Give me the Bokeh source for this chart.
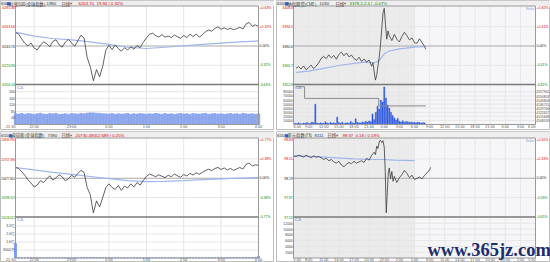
from bokeh.plotting import figure
from bokeh.models import Range1d
from bokeh.layouts import row, column
from bokeh.core.properties import value
from bokeh.embed import file_html
from bokeh.resources import INLINE

# ---------------- data ----------------
# top-left: S&P 500 (minutes after 21:30)
spx_t = list(range(0, 391, 5))
spx_price = [6257.5, 6256.0, 6251.0, 6246.5, 6244.0, 6246.8, 6241.5, 6239.8, 6244.5, 6248.0,
             6246.2, 6243.0, 6248.5, 6250.2, 6245.0, 6242.6, 6247.8, 6250.5, 6246.9, 6243.5,
             6249.0, 6254.8, 6252.0, 6232.0, 6222.5, 6208.0, 6219.5, 6212.0, 6223.0, 6239.5,
             6244.5, 6240.0, 6244.8, 6241.2, 6238.5, 6242.0, 6239.6, 6243.0, 6240.5, 6244.2,
             6242.0, 6247.5, 6252.0, 6255.8, 6257.0, 6254.5, 6253.0, 6255.5, 6252.8, 6254.0,
             6252.5, 6255.0, 6253.2, 6251.8, 6254.6, 6252.4, 6255.8, 6253.5, 6256.0, 6253.0,
             6255.2, 6258.5, 6260.2, 6259.0, 6261.8, 6263.5, 6261.0, 6262.5, 6260.8, 6262.0,
             6260.5, 6261.5, 6263.0, 6261.2, 6266.5, 6268.0, 6264.0, 6265.5, 6263.7]
spx_avg_t = list(range(0, 391, 30))
spx_avg = [6258.0, 6254.0, 6251.5, 6250.0, 6248.0, 6245.5, 6242.5, 6241.2, 6242.5, 6244.0,
           6245.5, 6246.8, 6248.0, 6249.0]
spx_vol = [66, 64, 68, 63, 67, 65, 62, 66, 69, 64,
           63, 67, 65, 68, 62, 64, 66, 63, 67, 65,
           64, 68, 66, 70, 72, 71, 69, 68, 66, 65,
           64, 67, 63, 66, 64, 65, 68, 62, 66, 64,
           67, 65, 63, 66, 64, 68, 65, 63, 67, 64,
           66, 62, 65, 68, 64, 66, 63, 67, 65, 64,
           66, 68, 63, 65, 67, 64, 66, 62, 65, 67,
           64, 66, 63, 68, 65, 64, 66, 63, 65]
spx_ticks = [6283.36, 6263.56, 6243.76, 6223.96, 6204.16]
spx_tick_labels = ["6283.36", "6263.56", "6243.76", "6223.96", "6204.16"]
spx_pct_labels = ["+0.63%", "+0.32%", "0.00%", "-0.32%", "-0.63%"]
spx_vol_ticks = [200, 160, 120, 80, 40]
spx_vol_labels = ["200", "160", "120", "80", "40"]

# bottom-left: Dow Jones (minutes after 21:30)
dji_price = [20722, 20718, 20705, 20690, 20672, 20658, 20642, 20650, 20668, 20660,
             20675, 20688, 20670, 20680, 20692, 20684, 20667, 20676, 20690, 20682,
             20698, 20710, 20702, 20640, 20610, 20535, 20585, 20560, 20598, 20640,
             20655, 20640, 20632, 20648, 20628, 20645, 20638, 20655, 20642, 20660,
             20650, 20668, 20685, 20695, 20690, 20684, 20692, 20686, 20680, 20690,
             20684, 20695, 20688, 20682, 20693, 20687, 20698, 20691, 20700, 20694,
             20702, 20710, 20715, 20709, 20718, 20722, 20714, 20720, 20712, 20718,
             20710, 20716, 20722, 20716, 20735, 20740, 20728, 20733, 20730.49]
dji_avg = [20722, 20712, 20702, 20694, 20685, 20676, 20668, 20664, 20665, 20668,
           20672, 20675, 20678, 20681]
dji_vol = [14500, 300, 180, 220, 150, 120, 160, 200, 140, 110,
           130, 170, 150, 120, 140, 160, 130, 110, 150, 170,
           190, 240, 260, 420, 380, 450, 330, 290, 260, 210,
           180, 150, 160, 140, 120, 130, 150, 110, 140, 130,
           160, 180, 150, 130, 120, 140, 110, 130, 150, 120,
           140, 130, 110, 150, 120, 140, 160, 130, 150, 140,
           170, 160, 180, 150, 190, 170, 200, 180, 210, 220,
           240, 260, 280, 300, 340, 380, 420, 600, 1800]
dji_ticks = [20836.990, 20757.396, 20677.801, 20598.207, 20518.612]
dji_tick_labels = ["20836.990", "20757.396", "20677.801", "20598.207", "20518.612"]
dji_pct_labels = ["+0.77%", "+0.38%", "0.00%", "-0.38%", "-0.77%"]
dji_vol_ticks = [32000, 24000, 16000, 8000]
dji_vol_labels = ["3.2亿", "2.4亿", "1.6亿", "8000万"]

us_time_ticks = [0, 30, 90, 150, 210, 270, 330, 390]
us_time_labels = ["21:30", "22:00", "23:00", "0:00", "1:00", "2:00", "3:00", "4:00"]

# top-right: Nasdaq future (hours after 6:00)
ndx_t = [0.5, 1.0, 1.5, 2.0, 2.5, 3.0, 3.5, 4.0, 4.5, 5.0, 5.5, 6.0, 6.5, 7.0, 7.5, 8.0,
         8.5, 9.0, 9.5, 10.0, 10.5, 11.0, 11.5, 12.0, 12.5, 13.0, 13.5, 14.0, 14.5, 15.0,
         15.5, 15.75, 16.0, 16.25, 16.5, 16.75, 17.0, 17.25, 17.5, 17.75, 18.0, 18.25,
         18.5, 18.75, 19.0, 19.5, 20.0, 20.5, 21.0, 21.5, 22.0, 22.5, 23.0, 23.5, 24.0,
         24.5, 25.0, 25.5, 26.0, 26.25]
ndx_price = [3364.5, 3365.8, 3364.0, 3366.2, 3363.5, 3365.0, 3366.8, 3364.2, 3366.0, 3368.5,
             3371.8, 3373.0, 3371.5, 3374.2, 3372.0, 3373.8, 3371.0, 3374.5, 3376.2, 3373.5,
             3375.5, 3372.8, 3374.0, 3371.5, 3370.2, 3372.5, 3369.5, 3371.2, 3369.0, 3370.5,
             3366.0, 3368.5, 3362.0, 3356.0, 3359.5, 3366.0, 3372.5, 3381.0, 3393.0, 3404.5,
             3407.8, 3396.0, 3385.5, 3391.5, 3388.0, 3384.5, 3389.0, 3385.5, 3383.5, 3387.5,
             3390.5, 3388.0, 3385.0, 3386.5, 3383.0, 3382.5, 3385.8, 3383.0, 3380.2, 3378.2]
ndx_avg_t = [0.5, 3, 6, 9, 12, 14, 16, 17, 18, 19, 21, 24, 26.25]
ndx_avg = [3361.5, 3362.5, 3364.5, 3366.5, 3368.0, 3369.0, 3368.5, 3370.0, 3375.0, 3377.0,
           3378.5, 3379.8, 3380.3]
ndx_vol_t = [k / 3 for k in range(1, 79)]
ndx_vol = [3000, 2200, 4100, 2600, 1800, 3500, 2900, 5200, 2400, 3100, 6000, 4500,
           50000,
           3800, 2500, 4200, 3300, 2800, 6500, 3900, 2700, 5100, 3600, 4400, 2900,
           18000,
           4800, 3200, 5600, 2600, 3900, 4300, 3100, 7200, 4100, 3500,
           14000,
           5200, 4600, 3800, 6300, 4900, 7800, 5600, 8900, 6700,
           26000, 12000,
           30000, 45000, 38000, 60000, 55000, 92000, 65000, 48000, 40000, 30000, 22000,
           16000, 11000, 15000,
           8200, 6400, 9100, 5800, 7300, 6900, 5100, 6200, 4800, 5600, 4300, 5900, 4700,
           3800, 5200, 4100]
ndx_oi_t = [0.5, 2.2, 16.9, 26.25]
ndx_oi = [4566854, 4546694, 4533654, 4533654]
ndx_ticks = [3408.4, 3394.5, 3380.6, 3366.7, 3352.8]
ndx_tick_labels = ["3408.4", "3394.5", "3380.6", "3366.7", "3352.8"]
ndx_pct_labels = ["+0.82%", "+0.41%", "0.00%", "-0.41%", "-0.82%"]
ndx_vol_ticks = [80000, 70000, 60000, 50000, 40000, 30000, 20000, 10000]
ndx_vol_labels = ["80000", "70000", "60000", "50000", "40000", "30000", "20000", "10000"]
ndx_oi_ticks = [4557902, 4550853, 4543804, 4536755, 4529706, 4522657, 4515608, 4508559]
ndx_oi_labels = ["4557902", "4550853", "4543804", "4536755", "4529706", "4522657",
                 "4515608", "4508559"]
ndx_time_ticks = list(range(0, 49, 3))
ndx_time_labels = ["6:00", "9:00", "12:00", "15:00", "18:00", "21:00", "0:00", "3:00",
                   "6:00", "9:00", "12:00", "15:00", "18:00", "21:00", "0:00", "3:00", "6:00"]

# bottom-right: US dollar index (hours after 5:00)
usd_t = [0.0, 0.5, 1.0, 1.5, 2.0, 2.5, 3.0, 3.5, 4.0, 4.5, 5.0, 5.5, 6.0, 6.5, 7.0, 7.5,
         8.0, 8.5, 9.0, 9.5, 10.0, 10.5, 11.0, 11.5, 12.0, 12.5, 13.0, 13.5, 14.0, 14.5,
         15.0, 15.5, 16.0, 16.25, 16.5, 16.75, 17.0, 17.25, 17.5, 17.75, 18.0, 18.2, 18.4,
         18.6, 18.8, 19.0, 19.25, 19.5, 19.75, 20.0, 20.5, 21.0, 21.5, 22.0, 22.5, 23.0,
         23.5, 24.0, 24.5, 25.0, 25.5, 26.0, 26.5, 27.0, 27.2]
usd_price = [98.56, 98.55, 98.57, 98.56, 98.54, 98.57, 98.55, 98.53, 98.56, 98.54,
             98.55, 98.53, 98.50, 98.52, 98.48, 98.50, 98.46, 98.44, 98.47, 98.41,
             98.38, 98.42, 98.45, 98.43, 98.47, 98.44, 98.46, 98.48, 98.45, 98.52,
             98.49, 98.57, 98.62, 98.58, 98.72, 98.68, 98.79, 98.82, 98.78, 98.81,
             98.70, 98.30, 97.62, 97.95, 98.28, 98.36, 98.18, 98.30, 98.14, 98.22,
             98.12, 98.20, 98.25, 98.32, 98.27, 98.20, 98.24, 98.17, 98.19, 98.21,
             98.18, 98.24, 98.28, 98.33, 98.37]
usd_avg_t = [0, 6, 12, 16, 18, 20, 24]
usd_avg = [98.56, 98.54, 98.51, 98.50, 98.50, 98.49, 98.48]
usd_ticks = [98.83, 98.51, 98.19, 97.87, 97.55]
usd_tick_labels = ["98.83", "98.51", "98.19", "97.87", "97.55"]
usd_pct_labels = ["+0.65%", "+0.33%", "0.00%", "-0.33%", "-0.65%"]
usd_vol_ticks = [12000, 10000, 8000, 6000, 4000, 2000]
usd_vol_labels = ["12000", "10000", "8000", "6000", "4000", "2000"]
usd_time_ticks = list(range(0, 49, 3))
usd_time_labels = ["5:00", "8:00", "11:00", "14:00", "17:00", "20:00", "23:00", "2:00",
                   "5:00", "8:00", "11:00", "14:00", "17:00", "20:00", "23:00", "2:00", "5:00"]

# ---------------- styling ----------------
RED = "#e00000"
GREEN = "#008c00"
BLACK = "#222222"
TICK_COLORS = [RED, RED, BLACK, GREEN, GREEN]
LINE = "#3a3a3a"
AVG = "#9fb6ee"
GRID = "#e6e6e6"
FONT = value("Liberation Sans")
NARROW = value("Liberation Sans")
CJK = value("Noto Sans CJK SC")
SYM = value("DejaVu Sans")
SMALL = "3.8px"
TINY = "3.5px"


def panel(w, h, L, R, t0, t1, Pt, Pb, p_lo, p_hi, Vb, vpp, shade=None):
    W = w - L - R
    k = (t1 - t0) / W
    x0 = t0 - L * k
    x1 = t1 + R * k
    s = (p_hi - p_lo) / (Pb - Pt)
    p = figure(width=w, height=h, x_range=Range1d(x0, x1), y_range=Range1d(h, 0),
               x_axis_type=None, y_axis_type=None, toolbar_location=None,
               output_backend="svg", min_border=0)
    p.extra_y_ranges = {"price": Range1d(p_lo - (h - Pb) * s, p_hi + Pt * s),
                        "vol": Range1d(-(h - Vb) * vpp, Vb * vpp)}
    p.background_fill_color = "white"
    p.border_fill_color = "white"
    p.outline_line_color = "#bcbcbc"
    X = lambda px: x0 + px * k
    top = Pt - 1.5
    # header strip
    p.quad(left=[x0], right=[x1], top=[0], bottom=[top], fill_color="#eeeeee", line_color=None)
    if shade is not None:
        p.quad(left=[t0], right=[shade], top=[top], bottom=[Vb], fill_color="#ebebeb", line_color=None)
        p.quad(left=[shade], right=[t1], top=[top], bottom=[Vb], fill_color="#f6f6f9", line_color=None)
    info = dict(x0=x0, x1=x1, t0=t0, t1=t1, L=L, W=W, top=top, Pb=Pb, Vb=Vb, h=h)
    return p, X, info


def frame_and_grid(p, X, info, time_ticks, ticks, vol_ticks):
    t0, t1 = info["t0"], info["t1"]
    inner = [t for t in time_ticks if t0 < t < t1]
    n = len(inner)
    p.segment(x0=inner, x1=inner, y0=[info["top"]] * n, y1=[info["Vb"]] * n,
              line_color=GRID, line_width=1)
    grid_p = [ticks[1], ticks[3]]
    p.segment(x0=[t0] * 2, x1=[t1] * 2, y0=grid_p, y1=grid_p, y_range_name="price",
              line_color=GRID, line_width=1)
    nv = len(vol_ticks)
    p.segment(x0=[t0] * nv, x1=[t1] * nv, y0=vol_ticks, y1=vol_ticks, y_range_name="vol",
              line_color=GRID, line_width=1)
    p.segment(x0=[t0], x1=[t1], y0=[ticks[2]], y1=[ticks[2]], y_range_name="price",
              line_color="#a9a9a9", line_width=1)


def borders(p, info):
    t0, t1 = info["t0"], info["t1"]
    p.segment(x0=[t0, t1, t0, t0], x1=[t0, t1, t1, t1],
              y0=[info["top"], info["top"], info["top"], info["Vb"]],
              y1=[info["Vb"], info["Vb"], info["top"], info["Vb"]],
              line_color="#9a9a9a", line_width=1)
    p.segment(x0=[t0], x1=[t1], y0=[info["Pb"]], y1=[info["Pb"]], line_color="#7a7a7a",
              line_width=1.6)


def labels(p, X, info, ticks, tick_labels, pct_labels, vol_ticks, vol_labels,
           time_ticks, time_labels, first_align, last_align, xlab_y, price_size=TINY):
    L, W = info["L"], info["W"]
    n = len(ticks)
    p.text(x=[X(L - 0.5)] * n, y=ticks, text=tick_labels, y_range_name="price",
           text_font=NARROW, text_font_size=price_size, text_color=TICK_COLORS,
           text_align="right", text_baseline="middle")
    p.text(x=[X(L + W + 1.0)] * n, y=ticks, text=pct_labels, y_range_name="price",
           text_font=NARROW, text_font_size=TINY, text_color=TICK_COLORS,
           text_align="left", text_baseline="middle")
    nv = len(vol_ticks)
    p.text(x=[X(L - 0.5)] * nv, y=vol_ticks, text=vol_labels, y_range_name="vol",
           text_font=NARROW, text_font_size=TINY, text_color="#444444",
           text_align="right", text_baseline="middle")
    aligns = ["center"] * len(time_ticks)
    aligns[0] = first_align
    aligns[-1] = last_align
    for a in set(aligns):
        xs = [t for t, al in zip(time_ticks, aligns) if al == a]
        ts = [s for s, al in zip(time_labels, aligns) if al == a]
        p.text(x=xs, y=[xlab_y] * len(xs), text=ts, text_font=NARROW, text_font_size=SMALL,
               text_color="#555555", text_align=a, text_baseline="middle")
    p.text(x=[X(L + 1.5)], y=[info["Pb"] + 3.2], text=["CJL"], text_font=FONT,
           text_font_size=SMALL, text_color="#3f6fe0", text_align="left", text_baseline="middle")


def header(p, X, items, y):
    for txt, px, color, font in items:
        p.text(x=[X(px)], y=[y], text=[txt], text_font=font, text_font_size="4.3px",
               text_color=color, text_align="left", text_baseline="middle")


# ---------------- top-left ----------------
tl, Xtl, itl = panel(274, 130, 15, 16, 0, 390, 7, 84, spx_ticks[-1], spx_ticks[0], 124, 6.1)
frame_and_grid(tl, Xtl, itl, us_time_ticks, spx_ticks, spx_vol_ticks)
tl.vbar(x=spx_t, top=spx_vol, bottom=0, width=4.3, y_range_name="vol",
        fill_color="#8ea8ee", line_color="#7b97e6", line_width=0.5)
tl.line(spx_avg_t, spx_avg, y_range_name="price", line_color=AVG, line_width=1.2)
tl.line(spx_t, spx_price, y_range_name="price", line_color=LINE, line_width=0.8)
borders(tl, itl)
labels(tl, Xtl, itl, spx_ticks, spx_tick_labels, spx_pct_labels, spx_vol_ticks, spx_vol_labels,
       us_time_ticks, us_time_labels, "right", "center", 126.6)
header(tl, Xtl, [("600", 0.5, "#333333", FONT), ("■", 6, "#2d5fd0", SYM),
                 ("标普500(全球指数)", 9, "#333333", CJK), ("1980", 46, "#333333", FONT),
                 ("日线", 61, "#333333", CJK), ("▾", 69.5, "#666666", SYM),
                 ("6263.70", 78, RED, FONT), ("19.94 / 0.32%", 96, RED, FONT)], 3)

# ---------------- top-right ----------------
tr, Xtr, itr = panel(274, 130, 17, 15, 0, 48, 7, 84, ndx_ticks[-1], ndx_ticks[0], 124, 2456,
                     shade=24)
frame_and_grid(tr, Xtr, itr, ndx_time_ticks, ndx_ticks, ndx_vol_ticks)
# open-interest scale: its labels sit on the volume grid lines (one label step per grid step)
oi_step = ndx_oi_ticks[0] - ndx_oi_ticks[1]
vol_step = ndx_vol_ticks[0] - ndx_vol_ticks[1]
vr = tr.extra_y_ranges["vol"]
oi_per_vol = oi_step / vol_step
tr.extra_y_ranges["oi"] = Range1d(ndx_oi_ticks[-1] + (vr.start - ndx_vol_ticks[-1]) * oi_per_vol,
                                  ndx_oi_ticks[-1] + (vr.end - ndx_vol_ticks[-1]) * oi_per_vol)
tr.vbar(x=ndx_vol_t, top=ndx_vol, bottom=0, width=0.22, y_range_name="vol",
        fill_color="#2b57e0", line_color="#2b57e0", line_width=0.4)
tr.step(x=ndx_oi_t, y=ndx_oi, mode="after", y_range_name="oi", line_color="#8a8a8a",
        line_width=1)
tr.line(ndx_avg_t, ndx_avg, y_range_name="price", line_color=AVG, line_width=1.2)
tr.line(ndx_t, ndx_price, y_range_name="price", line_color=LINE, line_width=0.8)
borders(tr, itr)
labels(tr, Xtr, itr, ndx_ticks, ndx_tick_labels, ndx_pct_labels, ndx_vol_ticks, ndx_vol_labels,
       ndx_time_ticks, ndx_time_labels, "left", "right", 126.6)
tr.text(x=[Xtr(itr["L"] + itr["W"] + 0.8)] * len(ndx_oi_ticks), y=ndx_oi_ticks,
        text=ndx_oi_labels, y_range_name="oi", text_font=NARROW, text_font_size="3.3px",
        text_color="#444444", text_align="left", text_baseline="middle")
tr.text(x=[Xtr(itr["L"] + itr["W"] - 1)], y=[itr["top"] + 2.8], text=["Solar"], text_font=FONT,
        text_font_size=SMALL, text_color="#8ca6e4", text_align="right", text_baseline="middle")
header(tr, Xtr, [("6550", 0.5, "#333333", FONT), ("■", 8, "#2d5fd0", SYM),
                 ("纳指期货(CME)", 11, "#333333", CJK), ("1030", 43, "#333333", FONT),
                 ("日线", 59, "#333333", CJK), ("▾", 67.5, "#666666", SYM),
                 ("3378.2", 73, GREEN, FONT), ("-2.4 / -0.07%", 86, GREEN, FONT)], 3)

# ---------------- bottom-left ----------------
bl, Xbl, ibl = panel(274, 131, 15, 16, 0, 390, 8, 85.5, dji_ticks[-1], dji_ticks[0], 126.5, 1000)
frame_and_grid(bl, Xbl, ibl, us_time_ticks, dji_ticks, dji_vol_ticks)
bl.vbar(x=spx_t, top=dji_vol, bottom=0, width=3.0, y_range_name="vol",
        fill_color="#5b82ea", line_color="#5b82ea", line_width=0.6)
bl.line(spx_avg_t, dji_avg, y_range_name="price", line_color=AVG, line_width=1.2)
bl.line(spx_t, dji_price, y_range_name="price", line_color=LINE, line_width=0.8)
borders(bl, ibl)
labels(bl, Xbl, ibl, dji_ticks, dji_tick_labels, dji_pct_labels, dji_vol_ticks, dji_vol_labels,
       us_time_ticks, us_time_labels, "right", "center", 128.5, price_size="2.9px")
header(bl, Xbl, [("6550", 0.5, "#333333", FONT), ("■", 8, "#2d5fd0", SYM),
                 ("道琼斯(全球指数)", 11, "#333333", CJK), ("7390", 47, "#333333", FONT),
                 ("日线", 61, "#333333", CJK), ("▾", 69.5, "#666666", SYM),
                 ("20730.490", 75, RED, FONT), ("52.689 / 0.25%", 95, RED, FONT)], 3.5)

# ---------------- bottom-right ----------------
br, Xbr, ibr = panel(274, 131, 17, 15, 0, 48, 8, 85.5, usd_ticks[-1], usd_ticks[0], 126.5, 345,
                     shade=24)
frame_and_grid(br, Xbr, ibr, usd_time_ticks, usd_ticks, usd_vol_ticks)
br.line(usd_avg_t, usd_avg, y_range_name="price", line_color=AVG, line_width=1.2)
br.line(usd_t, usd_price, y_range_name="price", line_color=LINE, line_width=0.8)
borders(br, ibr)
labels(br, Xbr, ibr, usd_ticks, usd_tick_labels, usd_pct_labels, usd_vol_ticks, usd_vol_labels,
       usd_time_ticks, usd_time_labels, "left", "right", 128.5)
br.text(x=[Xbr(ibr["L"] + ibr["W"] - 1)], y=[ibr["top"] + 2.8], text=["Solar"], text_font=FONT,
        text_font_size=SMALL, text_color="#8ca6e4", text_align="right", text_baseline="middle")
header(br, Xbr, [("6550", 0.5, "#333333", FONT), ("■", 8, "#2d5fd0", SYM),
                 ("美元指数(FX)", 11, "#333333", CJK), ("8111", 38, "#333333", FONT),
                 ("日线", 51, "#333333", CJK), ("▾", 59.5, "#666666", SYM),
                 ("98.37", 66, RED, FONT), ("0.18 / 0.19%", 79, RED, FONT)], 3.5)
br.text(x=[Xbr(151)], y=[118.5], text=["www.365jz.com"], text_font=value("Liberation Serif"),
        text_font_size="18.5px", text_font_style="bold", text_color="#1c2d6e",
        text_align="left", text_baseline="middle")

layout = column(row(tl, tr, spacing=2), row(bl, br, spacing=2), spacing=1)
open("out.html", "w").write(file_html(layout, INLINE))
